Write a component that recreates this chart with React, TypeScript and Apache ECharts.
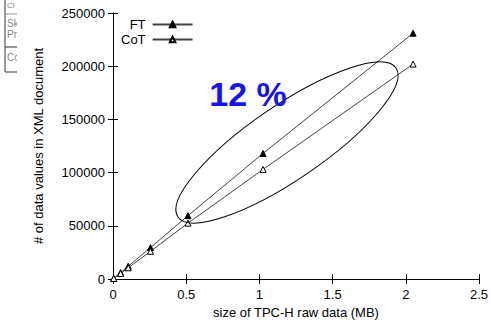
import React, { useEffect, useRef } from "react";
import * as echarts from "echarts";

const sizesMB = [0.005, 0.052, 0.104, 0.256, 0.512, 1.025, 2.05];
const ftValues = [600, 6000, 12000, 29500, 59500, 118000, 231000];
const cotValues = [520, 5200, 10500, 26000, 52500, 103000, 202000];
const xTicks = [0, 0.5, 1, 1.5, 2, 2.5];
const yTicks = [0, 50000, 100000, 150000, 200000, 250000];

const FONT = "'Liberation Sans', Arial, sans-serif";

export default function App() {
  const ref = useRef<HTMLDivElement>(null);
  useEffect(() => {
    if (!ref.current) return;
    const chart = echarts.init(ref.current, null, { renderer: "svg" });
    const axisLine = { show: true, lineStyle: { color: "#000", width: 1 } };
    const pairs = (ys: number[]) => sizesMB.map((x, i) => [x, ys[i]]);
    chart.setOption({
      animation: false,
      backgroundColor: "#fff",
      textStyle: { fontFamily: FONT },
      grid: { left: 113, right: 11, top: 13, bottom: 48 },
      legend: {
        orient: "vertical",
        left: 116,
        top: 13,
        align: "right",
        itemWidth: 40,
        itemHeight: 7,
        itemGap: 2,
        textStyle: {
          fontFamily: FONT,
          fontSize: 13,
          color: "#000",
          width: 26,
          align: "right",
          padding: [0, 2, 0, 0],
        },
        data: ["FT", "CoT"],
      },
      xAxis: [
        {
          type: "value",
          min: 0,
          max: 2.5,
          interval: 0.5,
          position: "bottom",
          name: "size of TPC-H raw data (MB)",
          nameLocation: "middle",
          nameGap: 26,
          nameTextStyle: { fontFamily: FONT, fontSize: 13, color: "#000" },
          axisLine,
          axisTick: { show: true, inside: true, length: 5, lineStyle: { color: "#000" } },
          axisLabel: {
            fontFamily: FONT,
            fontSize: 13,
            color: "#000",
            margin: 9,
            formatter: (v: number) => (xTicks.includes(v) ? String(v) : ""),
          },
          splitLine: { show: false },
        },
        {
          type: "value",
          min: 0,
          max: 2.5,
          interval: 0.5,
          position: "top",
          axisLine,
          axisTick: { show: true, inside: true, length: 5, lineStyle: { color: "#000" } },
          axisLabel: { show: false },
          splitLine: { show: false },
        },
      ],
      yAxis: [
        {
          type: "value",
          min: 0,
          max: 250000,
          interval: 50000,
          position: "left",
          name: "# of data values in XML document",
          nameLocation: "middle",
          nameGap: 68,
          nameTextStyle: { fontFamily: FONT, fontSize: 13, color: "#000" },
          axisLine,
          axisTick: { show: true, inside: true, length: 5, lineStyle: { color: "#000" } },
          axisLabel: {
            fontFamily: FONT,
            fontSize: 13,
            color: "#000",
            margin: 8,
            formatter: (v: number) => (yTicks.includes(v) ? String(v) : ""),
          },
          splitLine: { show: false },
        },
        {
          type: "value",
          min: 0,
          max: 250000,
          interval: 50000,
          position: "right",
          axisLine,
          axisTick: { show: true, inside: true, length: 5, lineStyle: { color: "#000" } },
          axisLabel: { show: false },
          splitLine: { show: false },
        },
      ],
      series: [
        {
          name: "FT",
          type: "line",
          data: pairs(ftValues),
          symbol: "triangle",
          symbolSize: 6,
          showAllSymbol: true,
          lineStyle: { color: "#444", width: 1 },
          itemStyle: { color: "#000", borderColor: "#000", borderWidth: 1 },
          z: 3,
        },
        {
          name: "CoT",
          type: "line",
          data: pairs(cotValues),
          symbol: "triangle",
          symbolSize: 6,
          showAllSymbol: true,
          lineStyle: { color: "#444", width: 1 },
          itemStyle: { color: "#fff", borderColor: "#000", borderWidth: 1 },
          z: 3,
        },
      ],
      graphic: [
        {
          type: "ellipse",
          x: 287,
          y: 142.5,
          rotation: 0.599,
          shape: { cx: 0, cy: 0, rx: 132, ry: 37 },
          style: { fill: "none", stroke: "#000", lineWidth: 1 },
          z: 10,
        },
        {
          type: "text",
          x: 248,
          y: 94,
          style: {
            text: "12 %",
            fill: "#1414ee",
            font: `bold 34px ${FONT}`,
            textAlign: "center",
            textVerticalAlign: "middle",
          },
          z: 10,
        },
        // cropped table fragment at the left edge
        { type: "text", x: 7, y: 1, style: { text: "Cl", fill: "#888", font: `8px ${FONT}` } },
        { type: "text", x: 7, y: 18, style: { text: "Sk", fill: "#888", font: `10px ${FONT}` } },
        { type: "text", x: 7, y: 29, style: { text: "Pr", fill: "#888", font: `10px ${FONT}` } },
        { type: "text", x: 7, y: 52, style: { text: "Co", fill: "#888", font: `10px ${FONT}` } },
        { type: "rect", shape: { x: 17, y: 0, width: 12, height: 76 }, style: { fill: "#fff" } },
        { type: "line", shape: { x1: 5, y1: 0, x2: 5, y2: 72 }, style: { stroke: "#555", lineWidth: 1.2 } },
        { type: "line", shape: { x1: 5, y1: 14, x2: 17, y2: 14 }, style: { stroke: "#999", lineWidth: 1 } },
        { type: "line", shape: { x1: 5, y1: 47, x2: 17, y2: 47 }, style: { stroke: "#555", lineWidth: 1.2 } },
        { type: "line", shape: { x1: 5, y1: 72, x2: 17, y2: 72 }, style: { stroke: "#555", lineWidth: 1.2 } },
      ],
    });
    return () => chart.dispose();
  }, []);
  return <div ref={ref} style={{ width: 491, height: 327, position: "absolute", left: 0, top: 0 }} />;
}
